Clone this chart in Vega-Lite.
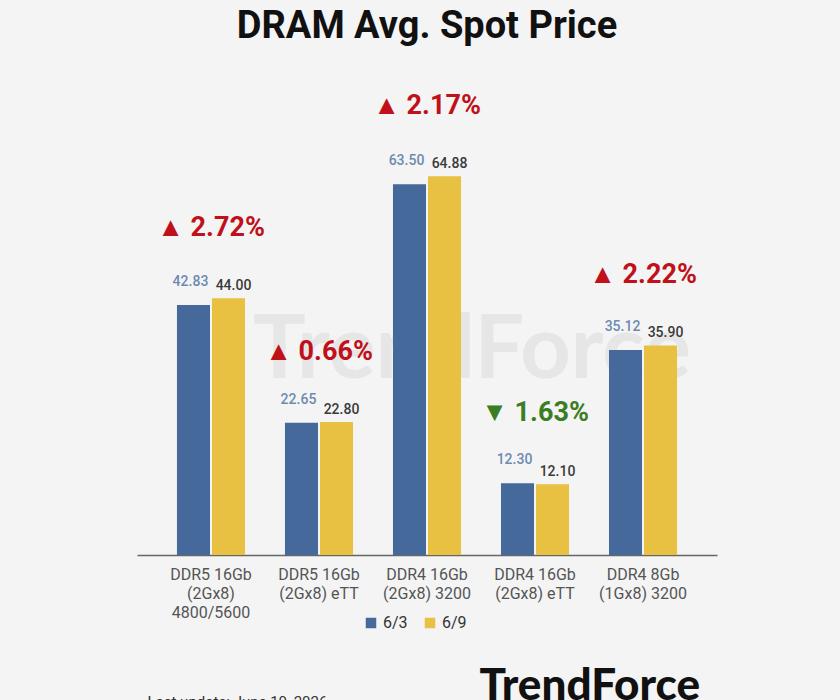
{
  "$schema": "https://vega.github.io/schema/vega-lite/v6.json",
  "width": 580,
  "height": 467,
  "autosize": {"type": "none"},
  "padding": {"left": 137, "top": 88, "right": 123, "bottom": 145},
  "background": "#f4f4f4",
  "title": {
    "text": "DRAM Avg. Spot Price",
    "font": "Roboto",
    "fontSize": 38,
    "fontWeight": "bold",
    "color": "#111111",
    "anchor": "middle",
    "baseline": "alphabetic",
    "offset": 12
  },
  "config": {"view": {"stroke": null}, "font": "Roboto"},
  "data": {
    "values": [
      {"cat": "DDR5 16Gb|(2Gx8)|4800/5600", "series": "6/3", "value": 42.83, "change": "▲ 2.72%", "dir": "up"},
      {"cat": "DDR5 16Gb|(2Gx8)|4800/5600", "series": "6/9", "value": 44.00, "change": "▲ 2.72%", "dir": "up"},
      {"cat": "DDR5 16Gb|(2Gx8) eTT", "series": "6/3", "value": 22.65, "change": "▲ 0.66%", "dir": "up"},
      {"cat": "DDR5 16Gb|(2Gx8) eTT", "series": "6/9", "value": 22.80, "change": "▲ 0.66%", "dir": "up"},
      {"cat": "DDR4 16Gb|(2Gx8) 3200", "series": "6/3", "value": 63.50, "change": "▲ 2.17%", "dir": "up"},
      {"cat": "DDR4 16Gb|(2Gx8) 3200", "series": "6/9", "value": 64.88, "change": "▲ 2.17%", "dir": "up"},
      {"cat": "DDR4 16Gb|(2Gx8) eTT", "series": "6/3", "value": 12.30, "change": "▼ 1.63%", "dir": "down"},
      {"cat": "DDR4 16Gb|(2Gx8) eTT", "series": "6/9", "value": 12.10, "change": "▼ 1.63%", "dir": "down"},
      {"cat": "DDR4 8Gb|(1Gx8) 3200", "series": "6/3", "value": 35.12, "change": "▲ 2.22%", "dir": "up"},
      {"cat": "DDR4 8Gb|(1Gx8) 3200", "series": "6/9", "value": 35.90, "change": "▲ 2.22%", "dir": "up"}
    ]
  },
  "layer": [
    {
      "transform": [{"filter": "datum.cat == 'DDR4 16Gb|(2Gx8) 3200' && datum.series == '6/3'"}],
      "mark": {"type": "text", "text": "TrendForce", "fontSize": 88, "fontWeight": "bold", "font": "Lato", "color": "#e6e6e6", "baseline": "middle", "align": "center", "dx": 45},
      "encoding": {
        "x": {
          "field": "cat", "type": "nominal", "sort": null,
          "scale": {
            "domain": ["DDR5 16Gb|(2Gx8)|4800/5600", "DDR5 16Gb|(2Gx8) eTT", "DDR4 16Gb|(2Gx8) 3200", "DDR4 16Gb|(2Gx8) eTT", "DDR4 8Gb|(1Gx8) 3200"],
            "padding": 0.37
          },
          "axis": {
            "title": "Last update: June 10, 2026",
            "titleAnchor": "start", "titleAlign": "left", "titleBaseline": "alphabetic",
            "titleX": 10, "titleY": 151,
            "titleFont": "Roboto", "titleFontSize": 15, "titleFontWeight": "normal", "titleColor": "#333333",
            "labelExpr": "split(datum.label, '|')",
            "labelAngle": 0, "labelFontSize": 16, "labelColor": "#555555",
            "labelLineHeight": 19, "labelPadding": 11, "ticks": false,
            "domainColor": "#666666", "domainWidth": 1.5
          }
        },
        "y": {
          "datum": 34.8, "type": "quantitative",
          "scale": {"domain": [0, 80]},
          "axis": {
            "values": [0, 20, 40, 60, 80], "labels": false, "ticks": false, "domain": false,
            "gridColor": "#d9d9d9", "gridWidth": 1.5,
            "title": "TrendForce", "titleAngle": 0, "titleAlign": "left", "titleBaseline": "alphabetic",
            "titleX": 342, "titleY": 611, "titleFont": "Lato", "titleFontSize": 44, "titleFontWeight": 900, "titleColor": "#111111"
          }
        }
      }
    },
    {
      "mark": {"type": "bar"},
      "encoding": {
        "x": {"field": "cat", "type": "nominal", "sort": null},
        "xOffset": {"field": "series", "type": "nominal", "scale": {"paddingInner": 0.057, "paddingOuter": 0}},
        "y": {"field": "value", "type": "quantitative"},
        "color": {
          "field": "series", "type": "nominal",
          "scale": {"domain": ["6/3", "6/9"], "range": ["#44699a", "#e8c142"]},
          "legend": {
            "title": null, "orient": "none", "direction": "horizontal",
            "legendX": 226, "legendY": 527, "symbolType": "square", "symbolSize": 110,
            "symbolStrokeWidth": 0, "labelFontSize": 16, "labelColor": "#333333", "columnPadding": 14, "padding": 0
          }
        }
      }
    },
    {
      "transform": [{"filter": "datum.series == '6/3'"}],
      "mark": {"type": "text", "baseline": "bottom", "dy": -16, "dx": -3, "fontSize": 14, "fontWeight": 500, "color": "#6d8bb0"},
      "encoding": {
        "x": {"field": "cat", "type": "nominal", "sort": null},
        "xOffset": {"field": "series", "type": "nominal"},
        "y": {"field": "value", "type": "quantitative"},
        "text": {"field": "value", "type": "quantitative", "format": ".2f"}
      }
    },
    {
      "transform": [{"filter": "datum.series == '6/9'"}],
      "mark": {"type": "text", "baseline": "bottom", "dy": -5, "dx": 5, "fontSize": 14, "fontWeight": 500, "color": "#3a3a3a"},
      "encoding": {
        "x": {"field": "cat", "type": "nominal", "sort": null},
        "xOffset": {"field": "series", "type": "nominal"},
        "y": {"field": "value", "type": "quantitative"},
        "text": {"field": "value", "type": "quantitative", "format": ".2f"}
      }
    },
    {
      "transform": [{"aggregate": [{"op": "max", "field": "value", "as": "top"}], "groupby": ["cat", "change", "dir"]}],
      "mark": {"type": "text", "baseline": "alphabetic", "dy": -62, "fontSize": 27, "fontWeight": "bold"},
      "encoding": {
        "x": {"field": "cat", "type": "nominal", "sort": null},
        "y": {"field": "top", "type": "quantitative"},
        "text": {"field": "change"},
        "color": {"condition": {"test": "datum.dir == 'down'", "value": "#3b7d23"}, "value": "#c0111a"}
      }
    }
  ]
}
